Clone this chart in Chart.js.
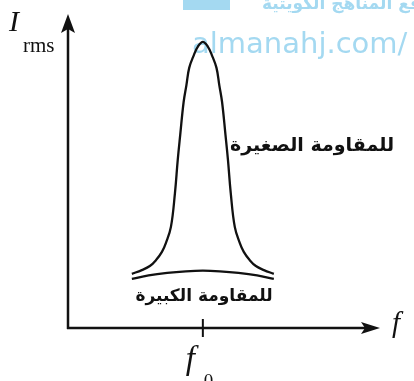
<!DOCTYPE html>
<html lang="ar">
<head>
    <meta charset="UTF-8">
    <title>Resonance curves</title>
    <script src="https://cdn.jsdelivr.net/npm/chart.js"></script>
    <style>
        body {
            margin: 0;
            background: #fff;
        }
        .wrap {
            position: relative;
            width: 414px;
            height: 381px;
        }
    </style>
</head>
<body>
    <div class="wrap">
        <canvas id="resChart"></canvas>
    </div>

    <script>
        // resonance frequency (x position of the f0 tick)
        const f0 = 4.35;

        // small resistance: narrow, tall peak
        const freqSmall = [2.06, 2.38, 2.64, 2.84, 3.03, 3.16, 3.32, 3.45, 3.54, 3.62, 3.73, 3.82, 3.91, 4.06, 4.19, 4.35,
                           4.51, 4.64, 4.79, 4.88, 4.97, 5.08, 5.16, 5.25, 5.38, 5.54, 5.67, 5.86, 6.06, 6.32, 6.64];
        const irmsSmall = [1.73, 1.85, 1.98, 2.17, 2.43, 2.72, 3.23, 4.31, 5.37, 6.17, 7.22, 7.76, 8.31, 8.72, 8.99, 9.14,
                           8.99, 8.72, 8.31, 7.76, 7.22, 6.17, 5.37, 4.31, 3.23, 2.72, 2.43, 2.17, 1.98, 1.85, 1.73];

        // large resistance: low, flat curve
        const freqLarge = [2.06, 2.6, 3.2, 3.8, 4.35, 4.9, 5.5, 6.1, 6.64];
        const irmsLarge = [1.57, 1.68, 1.76, 1.81, 1.83, 1.81, 1.76, 1.68, 1.57];

        const labelSmall = 'للمقاومة الصغيرة';
        const labelLarge = 'للمقاومة الكبيرة';

        function toPoints(xs, ys) {
            return xs.map((x, i) => ({ x: x, y: ys[i] }));
        }

        // axes, arrows, f0 tick, labels
        const axesPlugin = {
            id: 'axesPlugin',
            beforeDatasetsDraw(chart) {
                const c = chart.ctx;
                c.save();
                // watermark
                c.fillStyle = '#a4d9f1';
                c.fillRect(183, 0, 47, 10);
                c.font = 'bold 17px "DejaVu Sans"';
                c.textAlign = 'left';
                c.fillText('موقع المناهج الكويتية', 262, 9);
                c.font = '29px "DejaVu Sans"';
                c.fillText('almanahj.com/', 192, 53);
                c.restore();
            },
            afterDraw(chart) {
                const c = chart.ctx;
                const xs = chart.scales.x, ys = chart.scales.y;
                const x0 = xs.getPixelForValue(0);
                const y0 = ys.getPixelForValue(0);
                const xEnd = xs.getPixelForValue(xs.max);
                const yEnd = ys.getPixelForValue(ys.max);
                c.save();
                c.strokeStyle = '#111';
                c.fillStyle = '#111';
                c.lineWidth = 2.5;
                c.beginPath();
                c.moveTo(x0, y0 + 1);
                c.lineTo(x0, yEnd + 12);
                c.moveTo(x0 - 1, y0);
                c.lineTo(xEnd - 12, y0);
                c.stroke();
                // arrow heads
                c.beginPath();
                c.moveTo(x0, yEnd - 1);
                c.lineTo(x0 - 7, yEnd + 18);
                c.lineTo(x0, yEnd + 14);
                c.lineTo(x0 + 7, yEnd + 18);
                c.closePath();
                c.fill();
                c.beginPath();
                c.moveTo(xEnd + 2, y0);
                c.lineTo(xEnd - 17, y0 - 6);
                c.lineTo(xEnd - 13, y0);
                c.lineTo(xEnd - 17, y0 + 6);
                c.closePath();
                c.fill();
                // f0 tick
                const xf = xs.getPixelForValue(f0);
                c.lineWidth = 2;
                c.beginPath();
                c.moveTo(xf, y0 - 9);
                c.lineTo(xf, y0 + 9);
                c.stroke();

                // axis labels
                c.textAlign = 'left';
                c.textBaseline = 'alphabetic';
                c.font = 'italic 30px "Liberation Serif"';
                c.fillText('I', 9, 31);
                c.font = '21px "Liberation Serif"';
                c.fillText('rms', 23, 52);
                c.font = 'italic 29px "Liberation Serif"';
                c.fillText('f', 392, 332);
                c.font = 'italic 33px "Liberation Serif"';
                c.fillText('f', xf - 17, 369);
                c.font = '19px "Liberation Serif"';
                c.fillText('0', xf + 1, 387);

                // curve labels
                c.textAlign = 'center';
                c.textBaseline = 'middle';
                c.font = 'bold 19px "DejaVu Sans"';
                c.fillText(labelSmall, 312, 146);
                c.font = 'bold 17px "DejaVu Sans"';
                c.fillText(labelLarge, 204, 297);
                c.restore();
            }
        };

        const ctx = document.getElementById('resChart').getContext('2d');
        new Chart(ctx, {
            type: 'scatter',
            data: {
                datasets: [
                    {
                        label: labelSmall,
                        data: toPoints(freqSmall, irmsSmall),
                        showLine: true,
                        borderColor: '#111',
                        borderWidth: 2.3,
                        pointRadius: 0,
                        tension: 0.4
                    },
                    {
                        label: labelLarge,
                        data: toPoints(freqLarge, irmsLarge),
                        showLine: true,
                        borderColor: '#111',
                        borderWidth: 2.3,
                        pointRadius: 0,
                        tension: 0.4
                    }
                ]
            },
            options: {
                responsive: true,
                maintainAspectRatio: false,
                animation: false,
                layout: {
                    padding: { left: 68, right: 36, top: 15, bottom: 53 }
                },
                scales: {
                    x: { type: 'linear', min: 0, max: 10, display: false },
                    y: { min: 0, max: 10, display: false }
                },
                plugins: {
                    legend: { display: false },
                    tooltip: { enabled: false }
                }
            },
            plugins: [axesPlugin]
        });
    </script>
</body>
</html>
